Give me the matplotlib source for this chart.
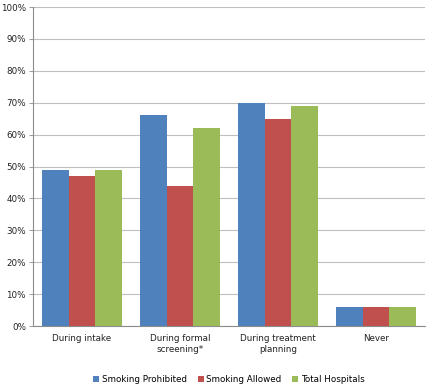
import numpy as np
import matplotlib
matplotlib.use("Agg")
import matplotlib.pyplot as plt
from matplotlib.ticker import PercentFormatter

categories = ["During intake", "During formal\nscreening*", "During treatment\nplanning", "Never"]
series = ["Smoking Prohibited", "Smoking Allowed", "Total Hospitals"]
prohibited = [49, 66, 70, 6]
allowed = [47, 44, 65, 6]
total = [49, 62, 69, 6]
colors = ["#4F81BD", "#C0504D", "#9BBB59"]

plt.rcParams['font.family'] = ['DejaVu Sans']

fig = plt.figure(figsize=(4.32, 3.9), dpi=100)
ax = fig.add_axes([0.076, 0.164, 0.908, 0.818])

x = np.arange(len(categories))
w = 0.27
for i, (vals, name) in enumerate(zip([prohibited, allowed, total], series)):
    ax.bar(x + (i - 1) * w, vals, width=w, color=colors[i], label=name, zorder=3)

ax.set_xlim(-0.5, len(categories) - 0.5)
ax.set_ylim(0, 100)
ax.set_yticks(np.arange(0, 101, 10))
ax.yaxis.set_major_formatter(PercentFormatter(decimals=0))
ax.set_xticks(x)
ax.set_xticklabels(categories, fontsize=6.3, color="#222222")
ax.tick_params(axis='y', labelsize=6.3, colors="#222222", length=3, width=0.6, pad=2)
ax.tick_params(axis='x', length=0, pad=6)

ax.grid(axis='y', color="#BFBFBF", linewidth=0.8, zorder=0)
for s in ["top", "right"]:
    ax.spines[s].set_visible(False)
ax.spines["left"].set_color("#8C8C8C")
ax.spines["bottom"].set_color("#8C8C8C")
ax.tick_params(axis='y', color="#8C8C8C")

fig.legend(loc="lower center", ncol=3, fontsize=6.3, frameon=False,
           handlelength=0.7, handleheight=0.7, handletextpad=0.3, columnspacing=1.2,
           bbox_to_anchor=(0.53, -0.005))

fig.savefig("out.png", dpi=100)
